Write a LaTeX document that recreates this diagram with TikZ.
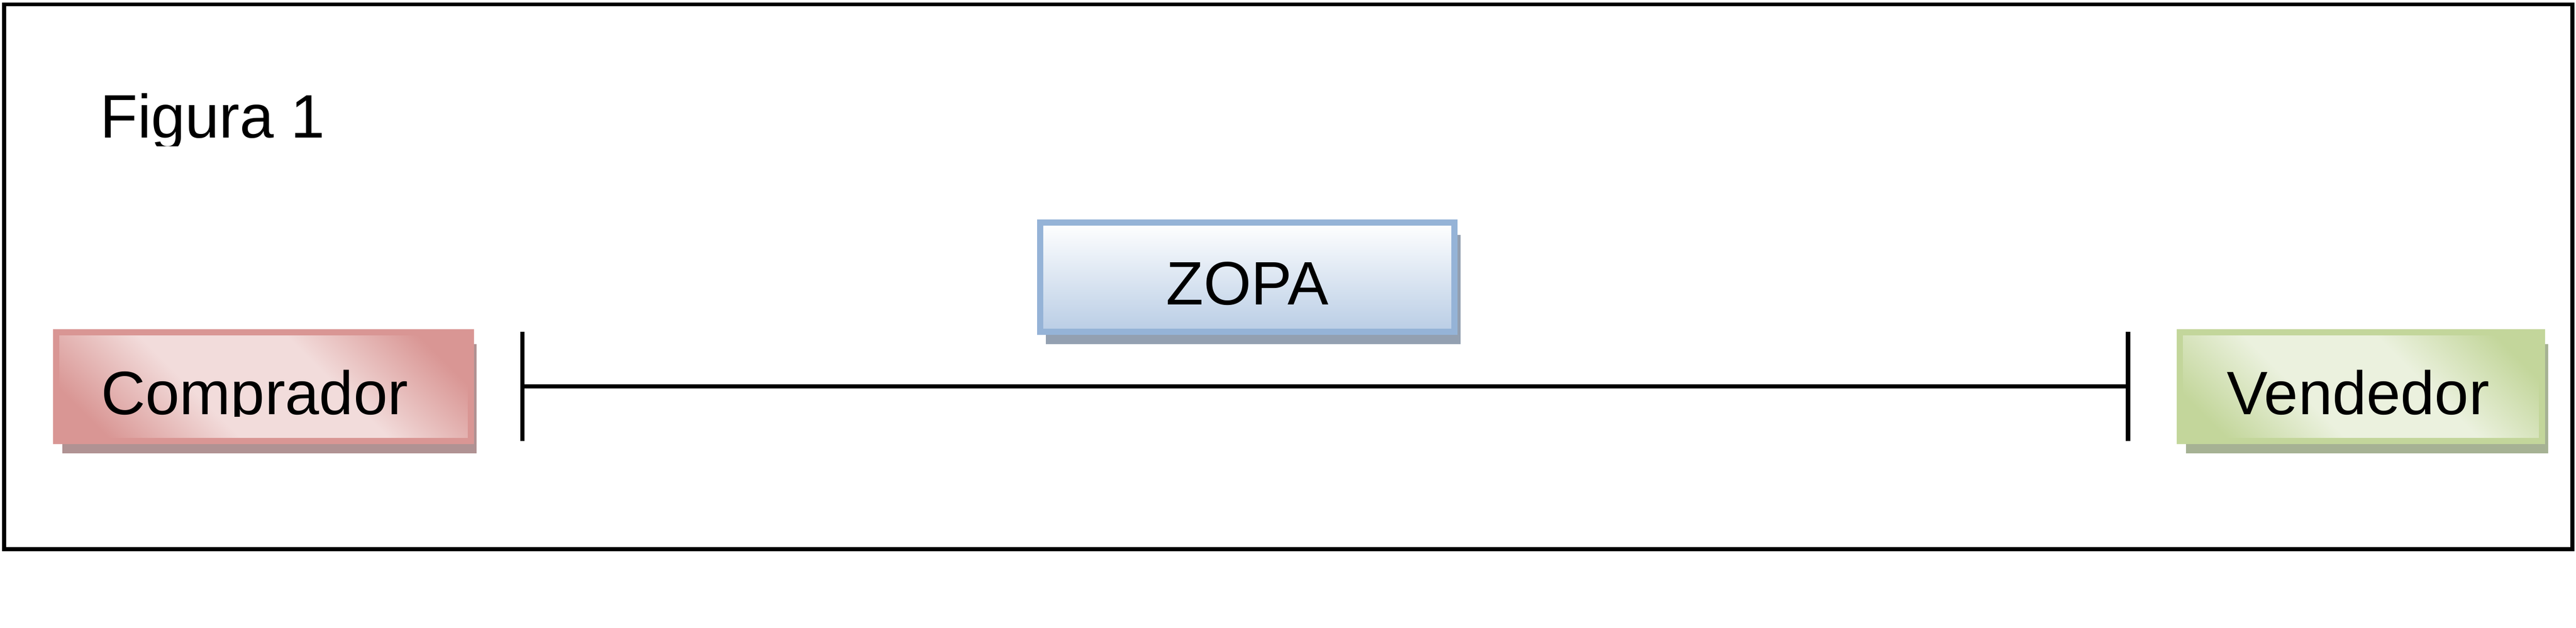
\documentclass[tikz,border=0pt]{standalone}
\usepackage{fontspec}
\setmainfont{Liberation Sans}
\usetikzlibrary{shadows}

\definecolor{redline}{HTML}{D99694}
\definecolor{redlight}{HTML}{F2DCDB}
\definecolor{redshadow}{HTML}{B09293}
\definecolor{blueline}{HTML}{95B3D7}
\definecolor{bluedark}{HTML}{B9CDE5}
\definecolor{blueshadow}{HTML}{93A0B1}
\definecolor{greenline}{HTML}{C3D69B}
\definecolor{greenlight}{HTML}{EBF1DE}
\definecolor{greenshadow}{HTML}{A6B294}

\pgfdeclarehorizontalshading{redband}{100bp}{color(0bp)=(redline); color(22bp)=(redline); color(40bp)=(redlight); color(60bp)=(redlight); color(78bp)=(redline); color(100bp)=(redline)}
\pgfdeclarehorizontalshading{greenband}{100bp}{color(0bp)=(greenline); color(22bp)=(greenline); color(40bp)=(greenlight); color(60bp)=(greenlight); color(78bp)=(greenline); color(100bp)=(greenline)}

\tikzset{
  party/.style={line width=0.085cm, inner sep=0pt, minimum width=5.7cm, minimum height=1.5cm},
  boxshadow/.style={drop shadow={shadow xshift=0.0825cm, shadow yshift=-0.1675cm, opacity=1, fill=#1}},
  boxtext/.style={font=\fontsize{24}{28}\selectfont, inner sep=0pt, anchor=base},
  tickline/.style={line width=0.06cm}
}

\begin{document}
\begin{tikzpicture}
  \useasboundingbox (0,0) rectangle (35.425,8.63);

  % Draw the outer frame
  \draw[line width=0.055cm] (0.055,1.075) rectangle (35.375,8.57);

  % Add the title, its descender cut off
  \begin{scope}
    \clip (0,6.62) rectangle (35.425,8.63);
    \node[boxtext, anchor=base west] (title) at (1.37,6.7335) {Figura 1};
  \end{scope}

  % Draw the three boxes
  \node[party, draw=redline, shade, shading=redband, shading angle=45, boxshadow=redshadow] (comprador) at (3.6225,3.3125) {};
  \node[party, draw=blueline, top color=white, bottom color=bluedark, boxshadow=blueshadow] (zopa) at (17.1525,4.8175) {};
  \node[party, minimum width=4.98cm, draw=greenline, shade, shading=greenband, shading angle=45, boxshadow=greenshadow] (vendedor) at (32.4675,3.3125) {};

  % Add the texts of the boxes
  \begin{scope}
    \clip (0,2.905) rectangle (35.425,8.63);
    \node[boxtext] (compradortext) at ([xshift=-0.12cm, yshift=-0.38cm]comprador.center) {Comprador};
  \end{scope}
  \node[boxtext] (zopatext) at ([yshift=-0.38cm]zopa.center) {ZOPA};
  \node[boxtext] (vendedortext) at ([xshift=-0.04cm, yshift=-0.38cm]vendedor.center) {Vendedor};

  % Draw the line between the two ticks
  \coordinate (lefttick) at (7.1825,3.315);
  \coordinate (righttick) at (29.265,3.315);
  \draw[tickline] (lefttick) -- (righttick);
  \draw[tickline] ([yshift=0.75cm]lefttick) -- ([yshift=-0.75cm]lefttick);
  \draw[tickline] ([yshift=0.75cm]righttick) -- ([yshift=-0.75cm]righttick);
\end{tikzpicture}
\end{document}
